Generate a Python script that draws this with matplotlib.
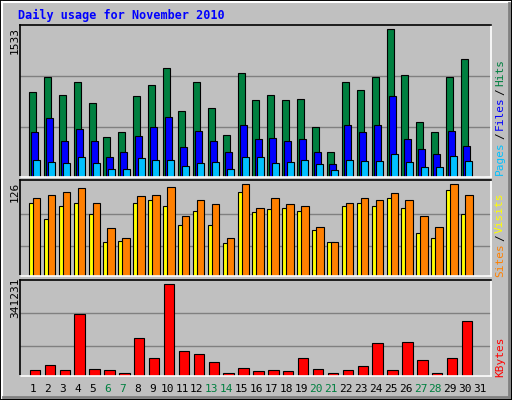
import matplotlib
matplotlib.use("Agg")
import matplotlib.pyplot as plt
from matplotlib.patches import Rectangle
import numpy as np

days = list(range(1, 32))
hits = [877,1033,846,981,763,409,461,836,950,1127,680,981,711,430,1075,794,846,794,805,513,253,981,898,1033,1533,1054,565,461,1033,1221,0]
files = [461,607,368,492,368,201,253,420,513,617,305,472,368,253,534,388,399,368,388,253,128,534,461,534,836,388,284,232,472,316,0]
pages = [170,149,139,201,139,76,76,191,170,170,108,139,149,76,201,201,139,149,170,128,66,170,160,160,232,149,97,97,212,160,0]
sites = [100,79,97,100,85,47,49,100,105,96,71,89,70,45,115,88,92,94,89,63,47,97,101,96,107,93,60,52,118,86,0]
visits = [108,111,115,121,101,66,53,110,112,123,82,104,99,53,126,93,107,99,97,68,47,101,107,104,114,105,82,68,126,111,0]
kbytes = [19926,38607,19926,229150,23663,19926,8718,139485,64761,341231,90914,79706,49816,8718,27399,16190,19926,16190,64761,23663,8718,19926,34871,120804,19926,124540,57288,8718,64761,203000,0]
weekend = {6,7,13,14,20,21,27,28}
title = "Daily usage for November 2010"

W, H = 512, 400
fig = plt.figure(figsize=(W/100, H/100), dpi=100, facecolor="#C0C0C0")
mono = "DejaVu Sans Mono"

def fr(x, y, w, h):
    return [x/W, 1-(y+h)/H, w/W, h/H]

fig.add_artist(Rectangle((0,0),1,1,transform=fig.transFigure,fill=False,ec="black",lw=1.5))
fig.add_artist(plt.Line2D([2/W,2/W],[2/H,1-2/H],color="white",lw=1.5,transform=fig.transFigure))
fig.add_artist(plt.Line2D([2/W,1-2/W],[1-2/H,1-2/H],color="white",lw=1.5,transform=fig.transFigure))
fig.add_artist(plt.Line2D([1-3/W,1-3/W],[3/H,1-3/H],color="#808080",lw=2,transform=fig.transFigure))
fig.add_artist(plt.Line2D([3/W,1-3/W],[3/H,3/H],color="#808080",lw=2,transform=fig.transFigure))

fig.text(18/W, 1-15/H, title, color="#0000FF", fontsize=8.5, fontweight="bold", family=mono, va="center", ha="left")

x = np.array(days, dtype=float)
xl = (0.128, 31.74)

def mkax(y0, y1, ytop, grids, maxlab, ylabpos):
    ax = fig.add_axes(fr(20, y0, 471, y1-y0))
    ax.set_facecolor("#C0C0C0")
    ax.set_xlim(*xl); ax.set_ylim(0, ytop)
    for g in grids:
        ax.axhline(g, color="#808080", lw=1, zorder=0)
    ax.set_xticks([]); ax.set_yticks([])
    for s in ["top","left"]:
        ax.spines[s].set_color("black")
    for s in ["bottom","right"]:
        ax.spines[s].set_color("white")
    for s in ax.spines.values():
        s.set_linewidth(1.2)
    fig.text(15/W, 1-ylabpos/H, maxlab, rotation=90, fontsize=8, family=mono, va="center", ha="center")
    return ax

ek = dict(edgecolor="black", linewidth=0.8)
ax1 = mkax(25, 176.7, 1578, [514, 1044], "1533", 40)
ax1.bar(x-0.27, hits, width=0.47, color="#008040", align="edge", **ek)
ax1.bar(x-0.13, files, width=0.47, color="#0000FF", align="edge", **ek)
ax1.bar(x+0.02, pages, width=0.47, color="#00C0FF", align="edge", **ek)

ax2 = mkax(180, 276.3, 132, [41, 86], "126", 192)
ax2.bar(x-0.27, sites, width=0.47, color="#FFFF00", align="edge", **ek)
ax2.bar(x+0.0, visits, width=0.5, color="#FF8000", align="edge", **ek)

ax3 = mkax(280, 375.7, 357700, [109900, 233200], "341231", 298)
ax3.bar(x-0.22, kbytes, width=0.7, color="#FF0000", align="edge", **ek)

for d in days:
    px = 33 + (d-1)*14.9
    fig.text(px/W, 1-389/H, str(d), fontsize=8, family=mono, ha="center", va="center",
             color="#008040" if d in weekend else "black")

renderer = fig.canvas.get_renderer()

def stacked(parts, y_bottom):
    y = y_bottom
    for txt, col in parts:
        t = fig.text(500/W, 1-y/H, txt, rotation=90, fontsize=8, family=mono, color=col,
                     ha="center", va="bottom")
        bb = t.get_window_extent(renderer)
        y -= bb.height + 2

stacked([("Pages", "#00C0FF"), ("/", "black"), ("Files", "#0000FF"), ("/", "black"), ("Hits", "#008040")], 175)
stacked([("Sites", "#FF8000"), ("/", "black"), ("Visits", "#FFFF00")], 277)
stacked([("KBytes", "#FF0000")], 377)

fig.savefig("out.png", dpi=100, facecolor=fig.get_facecolor())
